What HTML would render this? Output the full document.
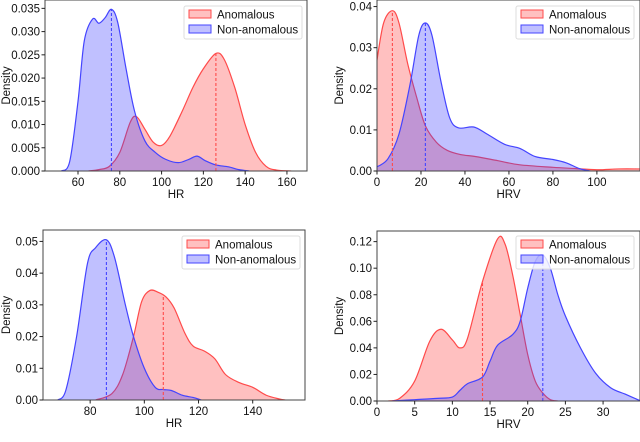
<!DOCTYPE html>
<html><head><meta charset="utf-8">
<style>
body{margin:0;background:#fff;}
svg{display:block;font-family:"Liberation Sans","DejaVu Sans",sans-serif;}
</style></head>
<body>
<svg id="chart" width="640" height="442" viewBox="0 0 640 442"></svg>
<script>
// Panel 1: HR (top-left)
const p1RedX=[65,70,75,80,85,88,92,96,100,104,110,115,120,126,130,135,140,145,150,155,162];
const p1RedY=[0,0.0003,0.001,0.004,0.0105,0.0117,0.009,0.0062,0.0055,0.0075,0.013,0.018,0.022,0.0253,0.024,0.018,0.01,0.004,0.001,0.0002,0];
const p1BlueX=[52,56,60,63,67,70,73,76,79,83,87,92,97,102,108,113,117,121,126,132,137,142];
const p1BlueY=[0,0.002,0.015,0.028,0.0327,0.0318,0.033,0.0348,0.032,0.022,0.013,0.0065,0.004,0.0025,0.0018,0.0025,0.0032,0.0022,0.0013,0.0009,0.0003,0];
const p1Medians=[126,76];
const p1XTicks=[60,80,100,120,140,160];
const p1YTicks=["0.000","0.005","0.010","0.015","0.020","0.025","0.030","0.035"];
// Panel 2: HRV (top-right)
const p2RedX=[0,3,7,10,14,18,22,27,32,38,45,55,65,80,90,100,110,120];
const p2RedY=[0.027,0.036,0.039,0.036,0.026,0.018,0.011,0.007,0.005,0.004,0.0035,0.0025,0.0015,0.0009,0.0006,0.0003,0.0005,0.0005];
const p2BlueX=[0,5,10,15,19,22,25,29,33,37,44,50,58,65,72,80,86,92,97];
const p2BlueY=[0.001,0.003,0.009,0.021,0.033,0.036,0.033,0.022,0.013,0.0105,0.0107,0.009,0.0065,0.0055,0.0035,0.0028,0.002,0.0006,0];
const p2Medians=[7,22];
const p2XTicks=[0,20,40,60,80,100];
const p2YTicks=["0.00","0.01","0.02","0.03","0.04"];
// Panel 3: HR (bottom-left)
const p3RedX=[82,88,92,96,99,102,105,108,111,115,118,122,126,130,135,140,145,150,152];
const p3RedY=[0,0.002,0.008,0.02,0.031,0.0345,0.034,0.0325,0.029,0.021,0.017,0.0155,0.013,0.008,0.0055,0.004,0.0015,0.0003,0];
const p3BlueX=[68,71,75,79,82,86,89,93,96,100,104,107,110,114,118,121];
const p3BlueY=[0,0.003,0.02,0.043,0.048,0.0505,0.045,0.03,0.02,0.01,0.004,0.0033,0.003,0.0015,0.0008,0];
const p3Medians=[107,86];
const p3XTicks=[80,100,120,140];
const p3YTicks=["0.00","0.01","0.02","0.03","0.04","0.05"];
// Panel 4: HRV (bottom-right)
const p4RedX=[1.5,3,5,7,8.5,10,11,12,14,16,17,18,19,20,21,22,23,24];
const p4RedY=[0,0.002,0.015,0.045,0.054,0.046,0.04,0.047,0.09,0.122,0.118,0.095,0.065,0.035,0.015,0.006,0.001,0];
const p4BlueX=[2,5,8,10,11,12,14,15,16,18,19,20,21,22,23,24,25,27,29,31,33,35];
const p4BlueY=[0,0.001,0.002,0.003,0.008,0.013,0.018,0.03,0.042,0.05,0.06,0.085,0.105,0.11,0.1,0.08,0.064,0.04,0.021,0.01,0.005,0];
const p4Medians=[14,22];
const p4XTicks=[0,5,10,15,20,25,30];
const p4YTicks=["0.00","0.02","0.04","0.06","0.08","0.10","0.12"];

const NS="http://www.w3.org/2000/svg";
const svg=document.getElementById('chart');
function mk(tag,attrs,parent){const e=document.createElementNS(NS,tag);for(const k in attrs)e.setAttribute(k,attrs[k]);(parent||svg).appendChild(e);return e;}
function interp(xs,ys,x){if(x<=xs[0])return ys[0];for(let i=1;i<xs.length;i++){if(x<=xs[i]){const t=(x-xs[i-1])/(xs[i]-xs[i-1]);return ys[i-1]+t*(ys[i]-ys[i-1]);}}return ys[ys.length-1];}
function smoothPath(pts){let d="M"+pts[0][0]+","+pts[0][1];for(let i=0;i<pts.length-1;i++){const p0=pts[Math.max(0,i-1)],p1=pts[i],p2=pts[i+1],p3=pts[Math.min(pts.length-1,i+2)];const c1=[p1[0]+(p2[0]-p0[0])/6,p1[1]+(p2[1]-p0[1])/6];const c2=[p2[0]-(p3[0]-p1[0])/6,p2[1]-(p3[1]-p1[1])/6];d+=" C"+c1[0].toFixed(2)+","+c1[1].toFixed(2)+" "+c2[0].toFixed(2)+","+c2[1].toFixed(2)+" "+p2[0].toFixed(2)+","+p2[1].toFixed(2);}return d;}

function panel(cfg){
  const g=mk('g',{});
  
  
  const sx=v=>cfg.L+(v-cfg.xmin)/(cfg.xmax-cfg.xmin)*(cfg.R-cfg.L);
  const sy=v=>cfg.B-(v-0)/(cfg.ymax)*(cfg.B-cfg.T);
  const clipId=cfg.name+'-clip';
  const cp=mk('clipPath',{id:clipId},g);mk('rect',{x:cfg.L,y:cfg.T,width:cfg.R-cfg.L,height:cfg.B-cfg.T},cp);
  const plot=mk('g',{'clip-path':'url(#'+clipId+')'},g);
  const series=[{xs:cfg.redX,ys:cfg.redY,fill:'rgba(255,60,60,0.32)',stroke:'#ff4a4a',name:'anomalous-density',med:cfg.med[0]},
                {xs:cfg.blueX,ys:cfg.blueY,fill:'rgba(60,60,255,0.32)',stroke:'#4444ff',name:'non-anomalous-density',med:cfg.med[1]}];
  series.forEach(s=>{
    const pts=s.xs.map((x,i)=>[sx(x),sy(s.ys[i])]);
    const line=smoothPath(pts);
    const area=mk('path',{d:line+" L"+pts[pts.length-1][0]+","+sy(0)+" L"+pts[0][0]+","+sy(0)+" Z",fill:s.fill,stroke:'none'},plot);
    
    
    const ln=mk('path',{d:line,fill:'none',stroke:s.stroke,'stroke-width':1.2},plot);
    
    
  });
  series.forEach(s=>{
    const h=interp(s.xs,s.ys,s.med);
    const m=mk('line',{x1:sx(s.med),x2:sx(s.med),y1:sy(0),y2:sy(h),stroke:s.stroke,'stroke-width':1.1,'stroke-dasharray':'3,2'},plot);
    
    
  });
  const frame=mk('rect',{x:cfg.L,y:cfg.T,width:cfg.R-cfg.L,height:cfg.B-cfg.T,fill:'none',stroke:'#444','stroke-width':1},g);
  
  
  cfg.xt.forEach(v=>{
    const x=sx(v);
    mk('line',{x1:x,x2:x,y1:cfg.B,y2:cfg.B+3.5,stroke:'#222'},g);
    const t=mk('text',{x:x,y:cfg.B+15,'text-anchor':'middle','font-size':11.5,fill:'#111'},g);t.textContent=v;
    
    
  });
  cfg.yt.forEach(lbl=>{
    const y=sy(parseFloat(lbl));
    mk('line',{x1:cfg.L-3.5,x2:cfg.L,y1:y,y2:y,stroke:'#222'},g);
    const t=mk('text',{x:cfg.L-5,y:y+4,'text-anchor':'end','font-size':11.5,fill:'#111'},g);t.textContent=lbl;
    
    
  });
  const xl=mk('text',{x:(cfg.L+cfg.R)/2,y:cfg.B+27,'text-anchor':'middle','font-size':11.5,fill:'#111'},g);xl.textContent=cfg.xlabel;
  
  
  const yl=mk('text',{x:0,y:0,'text-anchor':'middle','font-size':11.5,fill:'#111',transform:'translate('+cfg.ylx+','+((cfg.T+cfg.B)/2)+') rotate(-90)'},g);yl.textContent='Density';
  
  
  const lg=mk('g',{},g);
  
  
  const lx=cfg.lx,ly=cfg.ly;
  mk('rect',{x:lx,y:ly,width:118,height:33,fill:'#fff','fill-opacity':0.8,stroke:'#ddd',rx:2},lg);
  [['Anomalous','rgba(255,60,60,0.32)','#ff4a4a'],['Non-anomalous','rgba(60,60,255,0.32)','#4444ff']].forEach((e,i)=>{
    const en=mk('g',{},lg);
    
    
    mk('rect',{x:lx+5,y:ly+4+i*15,width:22,height:8,fill:e[1],stroke:e[2]},en);
    const t=mk('text',{x:lx+33,y:ly+12.5+i*15,'font-size':11.5,fill:'#111'},en);t.textContent=e[0];
  });
}
panel({name:'panel-hr-top',L:45,R:307,T:0,B:171,xmin:44.2,xmax:169.6,ymax:0.0368,redX:p1RedX,redY:p1RedY,blueX:p1BlueX,blueY:p1BlueY,med:p1Medians,xt:p1XTicks,yt:p1YTicks,xlabel:'HR',ylx:10,lx:184,ly:6});
panel({name:'panel-hrv-top',L:377,R:640,T:0,B:171,xmin:0,xmax:119.6,ymax:0.0416,redX:p2RedX,redY:p2RedY,blueX:p2BlueX,blueY:p2BlueY,med:p2Medians,xt:p2XTicks,yt:p2YTicks,xlabel:'HRV',ylx:343,lx:516,ly:6});
panel({name:'panel-hr-bottom',L:43,R:305,T:230,B:400,xmin:62.6,xmax:159.3,ymax:0.0536,redX:p3RedX,redY:p3RedY,blueX:p3BlueX,blueY:p3BlueY,med:p3Medians,xt:p3XTicks,yt:p3YTicks,xlabel:'HR',ylx:10,lx:182,ly:236});
panel({name:'panel-hrv-bottom',L:377,R:640,T:231,B:401,xmin:0,xmax:34.9,ymax:0.128,redX:p4RedX,redY:p4RedY,blueX:p4BlueX,blueY:p4BlueY,med:p4Medians,xt:p4XTicks,yt:p4YTicks,xlabel:'HRV',ylx:343,lx:516,ly:236});
</script>
</body></html>
